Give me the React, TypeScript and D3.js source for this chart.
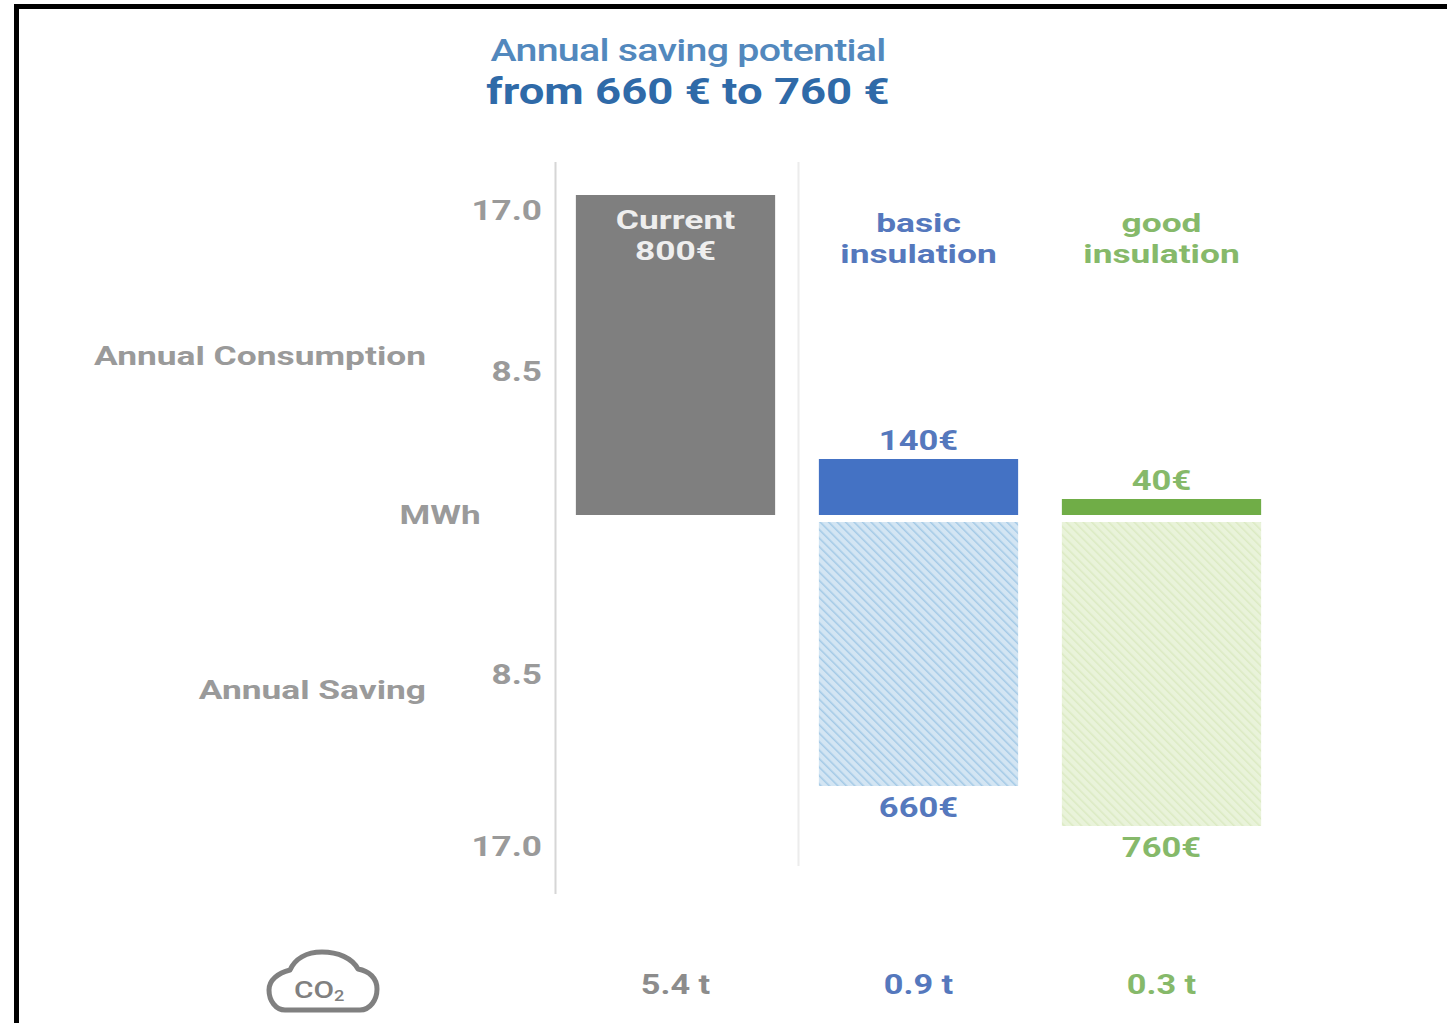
import React from "react";
import * as d3 from "d3";

// Euro figures per insulation scenario
const columns = ["current", "basic", "good"];
const columnLabels = [["Current", "800€"], ["basic", "insulation"], ["good", "insulation"]];
const consumptionEuro = [800, 140, 40];
const savingEuro = [0, 660, 760];
const co2Labels = ["5.4 t", "0.9 t", "0.3 t"];
const consumptionTicks = [17.0, 8.5];
const savingTicks = [8.5, 17.0];
const barColors = ["#7f7f7f", "#4472c4", "#70ad47"];
const textColors = ["#8c8c8c", "#5578bd", "#86b96a"];

const WIDTH = 1447;
const HEIGHT = 1023;
const GREY = "#9a9a9a";
const font = "Roboto, sans-serif";

const x = d3.scaleBand().domain(columns).range([554, 1283]).paddingInner(0.18).paddingOuter(0.09);
const consumptionHeight = d3.scaleLinear().domain([0, 800]).range([0, 320]);
const consumptionBase = 515;
const savingBase = 522;
// MWh axis labels sit on their own scales, either side of the MWh baseline
const upperTick = d3.scaleLinear().domain([8.5, 17]).range([371, 210]);
const lowerTick = d3.scaleLinear().domain([8.5, 17]).range([674, 846]);

// Text with a wide set: glyphs are stretched horizontally about the anchor point
function Wide({
  x: px,
  y,
  sx,
  children,
  ...rest
}: { x: number; y: number; sx: number; children: React.ReactNode } & React.SVGProps<SVGTextElement>) {
  return (
    <text transform={`translate(${px},${y}) scale(${sx},1)`} {...rest}>
      {children}
    </text>
  );
}

function Hatch({ id, bg, stroke }: { id: string; bg: string; stroke: string }) {
  return (
    <pattern id={id} width={6} height={6} patternUnits="userSpaceOnUse" patternTransform="rotate(-45)">
      <rect width={6} height={6} fill={bg} />
      <line x1={0} y1={0} x2={0} y2={6} stroke={stroke} strokeWidth={3} />
    </pattern>
  );
}

export default function App() {
  const cx = (c: string) => (x(c) as number) + x.bandwidth() / 2;
  return (
    <svg
      width={WIDTH}
      height={HEIGHT}
      viewBox={`0 0 ${WIDTH} ${HEIGHT}`}
      style={{ position: "absolute", left: 0, top: 0, background: "#fff", fontFamily: font }}
    >
      <defs>
        <Hatch id="hatch-basic" bg="#d3e5f3" stroke="#a3c9e6" />
        <Hatch id="hatch-good" bg="#e9f3da" stroke="#dbeac2" />
      </defs>

      {/* outer frame */}
      <path d={`M16.5 ${HEIGHT} V6.5 H${WIDTH}`} fill="none" stroke="#000" strokeWidth={5} />

      {/* heading */}
      <g textAnchor="middle">
        <Wide x={688} y={61} sx={1.23} fontSize={32} fontWeight={500} fill="#5288bd" letterSpacing={-0.6}>
          Annual saving potential
        </Wide>
        <Wide x={688} y={104} sx={1.23} fontSize={37} fontWeight={700} fill="#2f6aa8">
          from 660 € to 760 €
        </Wide>
      </g>

      {/* column separators */}
      <line x1={555.5} x2={555.5} y1={162} y2={894} stroke="#d6d6d6" strokeWidth={2} />
      <line x1={798.5} x2={798.5} y1={162} y2={866} stroke="#ececec" strokeWidth={2} />

      {/* row captions */}
      <g fontSize={26} fontWeight={700} fill={GREY} textAnchor="end">
        <Wide x={426} y={365} sx={1.36}>Annual Consumption</Wide>
        <Wide x={426} y={699} sx={1.36}>Annual Saving</Wide>
      </g>
      <Wide x={440} y={524} sx={1.35} fontSize={26} fontWeight={700} fill={GREY} textAnchor="middle">MWh</Wide>

      {/* MWh tick labels */}
      <g fontSize={27} fontWeight={700} fill={GREY} textAnchor="end">
        {consumptionTicks.map((t) => (
          <Wide key={`u${t}`} x={542} y={upperTick(t) + 10} sx={1.3}>{t.toFixed(1)}</Wide>
        ))}
        {savingTicks.map((t) => (
          <Wide key={`l${t}`} x={542} y={lowerTick(t) + 10} sx={1.3}>{t.toFixed(1)}</Wide>
        ))}
      </g>

      {/* consumption bars, above the baseline */}
      {columns.map((c, i) => {
        const h = consumptionHeight(consumptionEuro[i]);
        return (
          <rect key={c} x={x(c)} y={consumptionBase - h} width={x.bandwidth()} height={h} fill={barColors[i]} />
        );
      })}

      {/* saving bars, below the baseline */}
      {columns.map((c, i) =>
        savingEuro[i] > 0 ? (
          <rect
            key={c}
            x={x(c)}
            y={savingBase}
            width={x.bandwidth()}
            height={consumptionHeight(savingEuro[i])}
            fill={`url(#hatch-${c})`}
          />
        ) : null
      )}

      {/* column headings */}
      <g fontSize={26} fontWeight={700} textAnchor="middle">
        {columns.map((c, i) => {
          const top = i === 0 ? 229 : 232;
          return columnLabels[i].map((line, j) => (
            <Wide key={line} x={cx(c)} y={top + j * 31} sx={1.36} fill={i === 0 ? "#eeeeee" : textColors[i]}>
              {line}
            </Wide>
          ));
        })}
      </g>

      {/* euro value labels */}
      <g fontSize={27} fontWeight={700} textAnchor="middle">
        {columns.slice(1).map((c, k) => {
          const i = k + 1;
          return (
            <React.Fragment key={c}>
              <Wide x={cx(c)} y={consumptionBase - consumptionHeight(consumptionEuro[i]) - 9} sx={1.28} fill={textColors[i]}>
                {consumptionEuro[i]}€
              </Wide>
              <Wide x={cx(c)} y={savingBase + consumptionHeight(savingEuro[i]) + 31} sx={1.28} fill={textColors[i]}>
                {savingEuro[i]}€
              </Wide>
            </React.Fragment>
          );
        })}
      </g>

      {/* CO2 row */}
      <g fontSize={27} fontWeight={700} textAnchor="middle">
        {columns.map((c, i) => (
          <Wide key={c} x={cx(c)} y={994} sx={1.27} fill={textColors[i]}>{co2Labels[i]}</Wide>
        ))}
      </g>
      <path
        d="M285 1010 H360 C370 1010 377 1000 377 989 C377 978 369 971 358 969 C352 958 338 952 322 952 C306 952 295 959 290 970 C278 973 269 980 269 990 C269 1001 276 1010 285 1010 Z"
        fill="none"
        stroke="#808080"
        strokeWidth={5}
        strokeLinejoin="round"
      />
      <Wide x={294} y={998} sx={1.3} fontSize={23} fontWeight={500} fill="#808080">
        CO<tspan fontSize={14} dy={3}>2</tspan>
      </Wide>
    </svg>
  );
}
